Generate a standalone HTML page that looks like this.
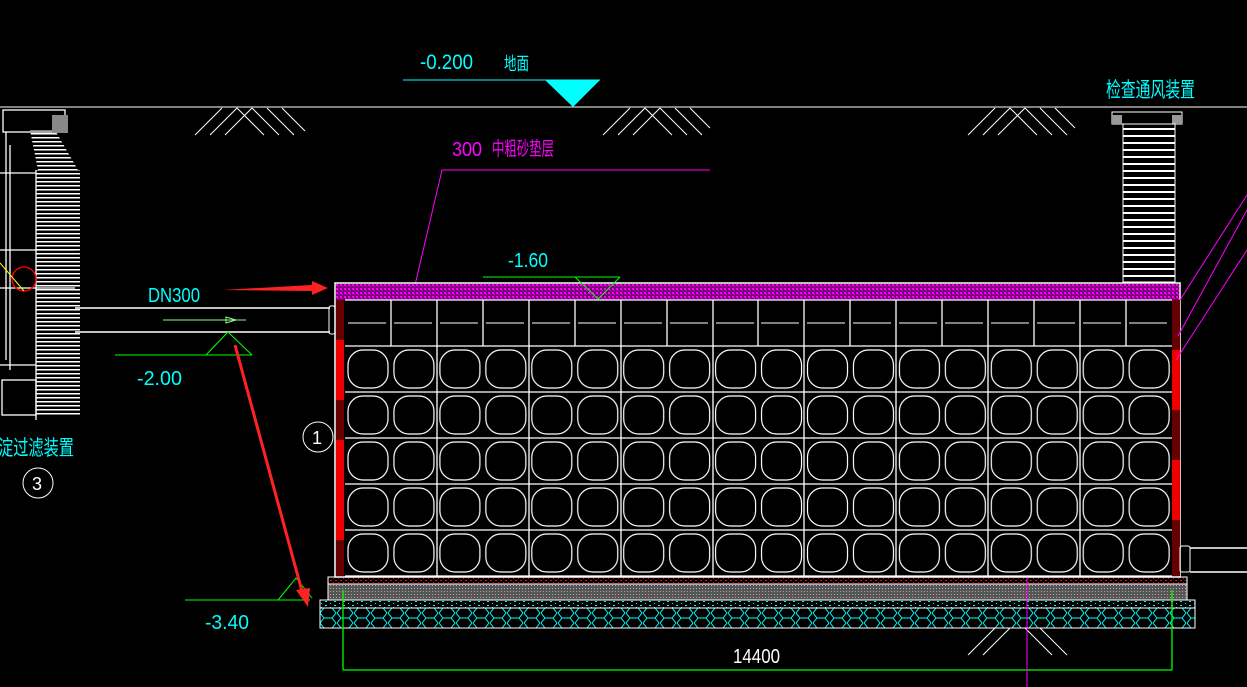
<!DOCTYPE html>
<html><head><meta charset="utf-8"><style>
html,body{margin:0;padding:0;background:#000;width:1247px;height:687px;overflow:hidden}
svg{display:block}
text{font-family:"Liberation Sans","Noto Sans CJK SC",sans-serif}
</style></head><body>
<svg width="1247" height="687" viewBox="0 0 1247 687" xmlns="http://www.w3.org/2000/svg">
<defs>
<pattern id="cell" x="345" y="346" width="45.95" height="46" patternUnits="userSpaceOnUse">
<rect x="3" y="4" width="40" height="38" rx="15" fill="none" stroke="#fff" stroke-width="1.2"/>
</pattern>
<pattern id="mag" width="4" height="4" patternUnits="userSpaceOnUse">
<rect width="4" height="4" fill="#7a007a"/><rect x="0" y="0" width="2" height="2" fill="#f0f"/><rect x="2" y="2" width="1" height="1" fill="#f0f"/>
</pattern>
<pattern id="redd" width="5" height="4" patternUnits="userSpaceOnUse">
<rect x="0" y="0" width="2" height="1" fill="#f00"/><rect x="3" y="2" width="1" height="1" fill="#f00"/>
</pattern>
<pattern id="gray" width="3" height="3" patternUnits="userSpaceOnUse">
<rect width="3" height="3" fill="#555"/><rect width="1" height="1" fill="#aaa"/>
</pattern>
<pattern id="cyd" width="9" height="4" patternUnits="userSpaceOnUse">
<rect x="1" y="1" width="2" height="1" fill="#0ff"/><rect x="6" y="3" width="1" height="1" fill="#0ff"/>
</pattern>
<pattern id="hex" x="320" y="608" width="17" height="20" patternUnits="userSpaceOnUse">
<path d="M0 5 L4 0 L12 0 L16 5 L12 10 L4 10 Z M4 10 L0 15 L4 20 M12 10 L16 15 L12 20" fill="none" stroke="#0ff" stroke-width="1"/>
</pattern>
<pattern id="rib" width="60" height="7" patternUnits="userSpaceOnUse">
<rect x="0" y="2" width="60" height="2" fill="#fff"/>
</pattern>
<pattern id="rib2" width="60" height="4" patternUnits="userSpaceOnUse">
<rect x="0" y="1" width="60" height="1.5" fill="#fff"/>
</pattern>
</defs>

<line x1="0" y1="107" x2="1247" y2="107" stroke="#fff" stroke-width="1"/>
<g stroke="#fff" stroke-width="1" fill="none">
<path d="M195 135 L222 108 M210 135 L237 108 M225 135 L252 108 M252 108 L279 135 M267 108 L294 135 M237 108 L264 135 M282 108 L305 131"/>
<path d="M603 135 L630 108 M618 135 L645 108 M633 135 L660 108 M660 108 L687 135 M675 108 L702 135 M645 108 L672 135 M690 108 L710 128"/>
<path d="M968 135 L995 108 M983 135 L1010 108 M998 135 L1025 108 M1025 108 L1052 135 M1040 108 L1067 135 M1010 108 L1037 135 M1055 108 L1075 128"/>
<path d="M968 655 L995 628 M983 655 L1010 628 M1025 628 L1052 655 M1040 628 L1067 655"/>
</g>
<text x="420" y="69" fill="#0ff" font-size="21" textLength="53" lengthAdjust="spacingAndGlyphs">-0.200</text>
<text x="504" y="70" fill="#0ff" font-size="18" textLength="25" lengthAdjust="spacingAndGlyphs">地面</text>
<line x1="403" y1="80" x2="600" y2="80" stroke="#0ff"/>
<polygon points="545,80 600,80 573,107" fill="#0ff"/>

<text x="452" y="156" fill="#f0f" font-size="20" textLength="30" lengthAdjust="spacingAndGlyphs">300</text>
<text x="492" y="155" fill="#f0f" font-size="19" textLength="62" lengthAdjust="spacingAndGlyphs">中粗砂垫层</text>
<polyline points="710,170 442,170 415,285" fill="none" stroke="#f0f"/>

<rect x="335" y="283" width="845" height="294" fill="none" stroke="#fff" stroke-width="1.5"/>
<rect x="336" y="284" width="843" height="16" fill="url(#mag)"/>
<rect x="345" y="346" width="827" height="230" fill="url(#cell)"/>
<g stroke="#fff" stroke-width="1.3">
<line x1="345" y1="300" x2="1172" y2="300"/>
<line x1="345" y1="346" x2="1172" y2="346"/>
<line x1="345" y1="392" x2="1172" y2="392"/>
<line x1="345" y1="438" x2="1172" y2="438"/>
<line x1="345" y1="484" x2="1172" y2="484"/>
<line x1="345" y1="530" x2="1172" y2="530"/>
<line x1="345" y1="576" x2="1172" y2="576"/>
</g>
<g stroke="#fff" stroke-width="1.3">
<line x1="391" y1="300" x2="391" y2="346"/><line x1="437" y1="300" x2="437" y2="576"/>
<line x1="483" y1="300" x2="483" y2="346"/><line x1="529" y1="300" x2="529" y2="576"/>
<line x1="575" y1="300" x2="575" y2="346"/><line x1="621" y1="300" x2="621" y2="576"/>
<line x1="667" y1="300" x2="667" y2="346"/><line x1="713" y1="300" x2="713" y2="576"/>
<line x1="758" y1="300" x2="758" y2="346"/><line x1="804" y1="300" x2="804" y2="576"/>
<line x1="850" y1="300" x2="850" y2="346"/><line x1="896" y1="300" x2="896" y2="576"/>
<line x1="942" y1="300" x2="942" y2="346"/><line x1="988" y1="300" x2="988" y2="576"/>
<line x1="1034" y1="300" x2="1034" y2="346"/><line x1="1080" y1="300" x2="1080" y2="576"/>
<line x1="1126" y1="300" x2="1126" y2="346"/>
</g>
<g stroke="#fff" stroke-width="1">
<path d="M348 323h38M394 323h38M440 323h38M486 323h38M532 323h38M578 323h38M624 323h38M670 323h38M716 323h38M761 323h38M807 323h38M853 323h38M899 323h38M945 323h38M991 323h38M1037 323h38M1083 323h38M1129 323h38"/>
</g>
<rect x="336" y="300" width="8" height="276" fill="#e00"/>
<rect x="336" y="300" width="8" height="40" fill="#600"/>
<rect x="336" y="400" width="8" height="40" fill="#600"/>
<rect x="336" y="540" width="8" height="36" fill="#600"/>
<rect x="1172" y="300" width="8" height="276" fill="#e00"/>
<rect x="1172" y="300" width="8" height="50" fill="#600"/>
<rect x="1172" y="410" width="8" height="50" fill="#600"/>
<rect x="1172" y="520" width="8" height="56" fill="#600"/>

<rect x="328" y="577" width="859" height="7" fill="url(#redd)" stroke="#fff"/>
<rect x="328" y="584" width="859" height="16" fill="url(#gray)" stroke="#fff"/>
<rect x="320" y="600" width="875" height="8" fill="url(#cyd)" stroke="#fff"/>
<rect x="320" y="608" width="875" height="20" fill="url(#hex)" stroke="#fff"/>

<g stroke="#0f0" stroke-width="1.3" fill="none">
<line x1="343" y1="590" x2="343" y2="670"/>
<line x1="1172" y1="590" x2="1172" y2="670"/>
<line x1="343" y1="670" x2="1172" y2="670"/>
</g>
<text x="733" y="663" fill="#fff" font-size="20" textLength="47" lengthAdjust="spacingAndGlyphs">14400</text>
<line x1="1027" y1="578" x2="1027" y2="687" stroke="#f0f"/>

<text x="508" y="267" fill="#0ff" font-size="20" textLength="40" lengthAdjust="spacingAndGlyphs">-1.60</text>
<line x1="483" y1="277" x2="620" y2="277" stroke="#0f0"/>
<polyline points="575,277 598,299 620,277" fill="none" stroke="#0f0"/>

<text x="148" y="302" fill="#0ff" font-size="20" textLength="52" lengthAdjust="spacingAndGlyphs">DN300</text>
<line x1="75" y1="308" x2="330" y2="308" stroke="#fff" stroke-width="1.5"/>
<line x1="75" y1="332" x2="330" y2="332" stroke="#fff" stroke-width="1.5"/>
<rect x="329" y="306" width="6" height="28" rx="2" fill="none" stroke="#fff"/>
<line x1="163" y1="320" x2="246" y2="320" stroke="#8f8"/>
<polygon points="226,317 236,320 226,323" fill="none" stroke="#8f8"/>
<line x1="115" y1="355" x2="252" y2="355" stroke="#0f0"/>
<polyline points="206,355 228,332 252,355" fill="none" stroke="#0f0"/>
<text x="137" y="385" fill="#0ff" font-size="20" textLength="45" lengthAdjust="spacingAndGlyphs">-2.00</text>

<line x1="185" y1="600" x2="310" y2="600" stroke="#0f0"/>
<polyline points="278,600 296,578 312,598" fill="none" stroke="#0f0"/>
<text x="205" y="629" fill="#0ff" font-size="20" textLength="44" lengthAdjust="spacingAndGlyphs">-3.40</text>

<polygon points="222,290 312,285 312,281 328,288 312,295 312,291" fill="#f22"/>
<line x1="235" y1="345" x2="303" y2="595" stroke="#f22" stroke-width="3"/>
<polygon points="296,590 310,588 308,607" fill="#f22"/>

<circle cx="318" cy="437" r="15" fill="none" stroke="#fff"/>
<text x="312" y="444" fill="#fff" font-size="18">1</text>
<text x="-2" y="455" fill="#0ff" font-size="21" textLength="76" lengthAdjust="spacingAndGlyphs">淀过滤装置</text>
<circle cx="38" cy="483" r="15" fill="none" stroke="#fff"/>
<text x="32" y="490" fill="#fff" font-size="18">3</text>

<g stroke="#fff" fill="none" stroke-width="1.3">
<rect x="3" y="110" width="62" height="22"/>
<line x1="0" y1="173" x2="36" y2="173"/>
<line x1="0" y1="250" x2="75" y2="250"/>
<line x1="0" y1="288" x2="75" y2="288"/>
<line x1="0" y1="365" x2="36" y2="365"/>
<line x1="10" y1="145" x2="10" y2="370"/>
<line x1="36" y1="170" x2="36" y2="420"/>
<rect x="2" y="380" width="34" height="35"/>
<line x1="6" y1="132" x2="6" y2="360"/>
</g>
<rect x="36" y="170" width="44" height="245" fill="url(#rib2)"/>
<path d="M30 130 L55 130 L78 170 L38 170 Z" fill="url(#rib2)"/>
<rect x="52" y="115" width="16" height="18" fill="#888"/>
<circle cx="24" cy="279" r="12" fill="none" stroke="#f00" stroke-width="1.3"/>
<line x1="0" y1="263" x2="24" y2="291" stroke="#ff0"/>

<rect x="1112" y="112" width="70" height="12" fill="none" stroke="#fff"/>
<rect x="1112" y="115" width="10" height="9" fill="#999"/>
<rect x="1172" y="115" width="10" height="9" fill="#999"/>
<rect x="1123" y="124" width="52" height="158" fill="url(#rib)" stroke="#fff"/>
<text x="1106" y="97" fill="#0ff" font-size="21" textLength="89" lengthAdjust="spacingAndGlyphs">检查通风装置</text>
<g stroke="#f0f" stroke-width="1">
<line x1="1180" y1="300" x2="1247" y2="195"/>
<line x1="1178" y1="336" x2="1247" y2="210"/>
<line x1="1176" y1="360" x2="1247" y2="250"/>
</g>
<rect x="1180" y="546" width="10" height="26" rx="2" fill="none" stroke="#fff"/>
<line x1="1190" y1="548" x2="1247" y2="548" stroke="#fff" stroke-width="1.5"/>
<line x1="1190" y1="572" x2="1247" y2="572" stroke="#fff" stroke-width="1.5"/>
</svg>
</body></html>
